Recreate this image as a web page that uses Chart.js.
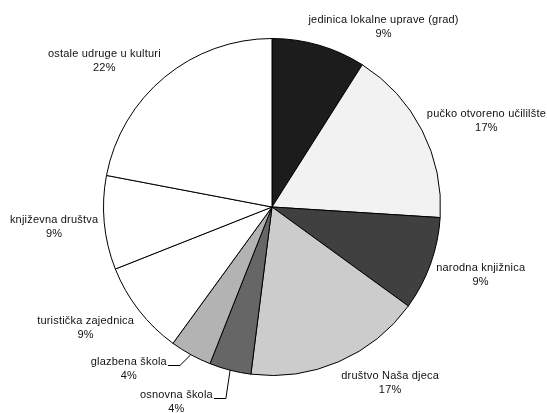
<!DOCTYPE html>
<html>
<head>
<meta charset="utf-8">
<script src="https://cdn.jsdelivr.net/npm/chart.js@4.4.1/dist/chart.umd.min.js"></script>
<style>
  html, body { margin: 0; padding: 0; background: #fff; }
  #wrap { width: 547px; height: 413px; position: relative; }
</style>
</head>
<body>
<div id="wrap"><canvas id="pieChart"></canvas></div>
<script>
// --- Data ---
const categories = [
  "jedinica lokalne uprave (grad)",
  "pučko otvoreno učililšte",
  "narodna knjižnica",
  "društvo Naša djeca",
  "osnovna škola",
  "glazbena škola",
  "turistička zajednica",
  "književna društva",
  "ostale udruge u kulturi",
];
const shares = [9, 17, 9, 17, 4, 4, 9, 9, 22];

// slice fills, same order as categories
const sliceColors = [
  "#1c1c1c", "#f2f2f2", "#404040", "#cccccc", "#666666",
  "#b3b3b3", "#ffffff", "#ffffff", "#ffffff",
];
// labels dragged away from their slice (drawn with a leader line)
const labelPull = [[0, 0], [0, 0], [0, 0], [0, 0], [-25, 10], [-21, -7], [0, 0], [0, 0], [0, 0]];

const total = shares.reduce((a, b) => a + b, 0);

// Excel-like outside labels: box sits just beyond the slice's mid point on the rim
const outsideLabels = {
  id: "outsideLabels",
  afterDatasetsDraw(chart) {
    const ctx = chart.ctx;
    const meta = chart.getDatasetMeta(0);
    ctx.save();
    ctx.font = "11px 'Liberation Sans', Arial, sans-serif";
    ctx.letterSpacing = "0.2px";
    ctx.fillStyle = "#111";
    ctx.strokeStyle = "#000";
    ctx.lineWidth = 1;
    ctx.textAlign = "center";
    ctx.textBaseline = "middle";

    meta.data.forEach((arc, i) => {
      const { x, y, startAngle, endAngle, outerRadius } =
        arc.getProps(["x", "y", "startAngle", "endAngle", "outerRadius"], true);
      const mid = (startAngle + endAngle) / 2;
      const cos = Math.cos(mid), sin = Math.sin(mid);
      const px = x + outerRadius * cos;
      const py = y + outerRadius * sin;

      const line1 = categories[i];
      const line2 = Math.round((shares[i] / total) * 100) + "%";
      const w = Math.max(ctx.measureText(line1).width, ctx.measureText(line2).width);
      const h = 28, gap = 6;
      const sx = Math.max(-1, Math.min(1, cos * 3));
      const sy = Math.max(-1, Math.min(1, sin * 1.4));
      let cx = px + gap * cos + sx * w / 2;
      let cy = py + gap * sin + sy * h / 2 + 2;
      // keep the box inside the canvas
      cx = Math.min(cx, chart.width - 1 - w / 2);

      const [dx, dy] = labelPull[i];
      if (dx || dy) {
        cx += dx;
        cy += dy;
        const right = cx + ctx.measureText(line1).width / 2;
        const ly = Math.round(cy - 4) + 0.5;
        ctx.beginPath();
        ctx.moveTo(px, py);
        ctx.lineTo(right + 13, ly);
        ctx.lineTo(right + 1, ly);
        ctx.stroke();
      }

      ctx.fillText(line1, cx, cy - 7);
      ctx.fillText(line2, cx, cy + 7);
    });
    ctx.restore();
  },
};

const ctxPie = document.getElementById("pieChart").getContext("2d");
new Chart(ctxPie, {
  type: "pie",
  data: {
    labels: categories,
    datasets: [
      {
        data: shares,
        backgroundColor: sliceColors,
        borderColor: "#000",
        borderWidth: 1,
        hoverOffset: 0,
      },
    ],
  },
  options: {
    responsive: true,
    maintainAspectRatio: false,
    animation: false,
    layout: { padding: { top: 38, bottom: 37, left: 103, right: 106 } },
    plugins: {
      legend: { display: false },
      tooltip: { enabled: false },
    },
  },
  plugins: [outsideLabels],
});
</script>
</body>
</html>
